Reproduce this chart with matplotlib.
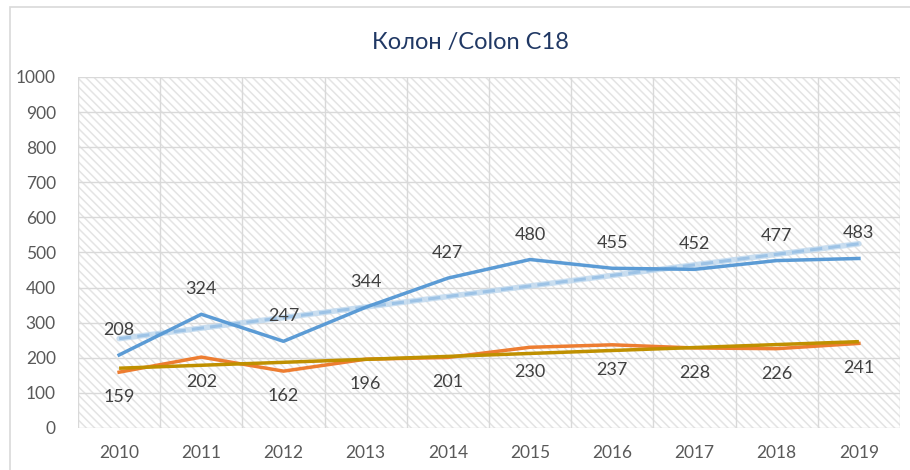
import numpy as np
import matplotlib
matplotlib.use("Agg")
import matplotlib.pyplot as plt
from matplotlib.patches import Rectangle

years = ["2010", "2011", "2012", "2013", "2014", "2015", "2016", "2017", "2018", "2019"]
blue_vals = [208, 324, 247, 344, 427, 480, 455, 452, 477, 483]
orange_vals = [159, 202, 162, 196, 201, 230, 237, 228, 226, 241]
y_ticks = [0, 100, 200, 300, 400, 500, 600, 700, 800, 900, 1000]
title = "Колон /Colon C18"

plt.rcParams['font.family'] = ['Lato', 'DejaVu Sans']
plt.rcParams['hatch.linewidth'] = 1.1

fig = plt.figure(figsize=(9.1, 4.7), dpi=100)
ax = fig.add_axes([78/910, 42/470, 822/910, 351/470])

x = np.arange(len(years))

# hatched background
bg = Rectangle((0, 0), 1, 1, transform=ax.transAxes, facecolor='white',
               edgecolor='#E4E4E4', hatch='\\\\\\\\', lw=0, zorder=0)
ax.add_patch(bg)
ax.patch.set_visible(False)

ax.set_xlim(-0.5, len(years) - 0.5)
ax.set_ylim(0, 1000)
ax.set_yticks(y_ticks)
ax.set_xticks(x)
ax.set_xticklabels(years)
ax.set_xticks(np.arange(-0.5, len(years), 0.5), minor=True)
ax.set_axisbelow(True)
ax.grid(axis='y', which='major', color='#D9D9D9', lw=1, zorder=0.5)
ax.grid(axis='x', which='minor', color='#D9D9D9', lw=1, zorder=0.5)
for s in ax.spines.values():
    s.set_visible(False)
ax.tick_params(which='both', length=0)
ax.tick_params(axis='y', pad=16, labelsize=12.5, labelcolor='#595959')
ax.tick_params(axis='x', pad=12, labelsize=12.5, labelcolor='#595959')

# trendlines
bc = np.polyfit(x, blue_vals, 1)
oc = np.polyfit(x, orange_vals, 1)
bt = np.polyval(bc, x)
ot = np.polyval(oc, x)
ax.plot(x, bt, color='#BDD7EE', lw=4, alpha=0.8, zorder=2, solid_capstyle='round')
ax.plot(x, bt, color='#9DC3E6', lw=2.2, ls=(0, (4, 2)), zorder=2.1)
ax.plot(x, ot, color='#BF9000', lw=2.5, zorder=2.5, solid_capstyle='butt')

ax.plot(x, blue_vals, color='#5B9BD5', lw=2.5, zorder=3)
ax.plot(x, orange_vals, color='#ED7D31', lw=2.5, zorder=2.4)

for xi, v in zip(x, blue_vals):
    ax.annotate(str(v), (xi, v), xytext=(0, 18), textcoords='offset points',
                ha='center', va='center', fontsize=13, color='#404040', zorder=5)
for xi, v in zip(x, orange_vals):
    ax.annotate(str(v), (xi, v), xytext=(0, -18), textcoords='offset points',
                ha='center', va='center', fontsize=13, color='#404040', zorder=5)

fig.text(470/910, 1 - 42/470, title, ha='center', va='center', fontsize=17, color='#203864')

# outer chart border
fig.patches.append(Rectangle((10/910, -0.1), 1.2, 1 - 7/470 + 0.1, transform=fig.transFigure,
                             fill=False, edgecolor='#D9D9D9', lw=1.2, zorder=10))

fig.savefig('out.png', dpi=100)
